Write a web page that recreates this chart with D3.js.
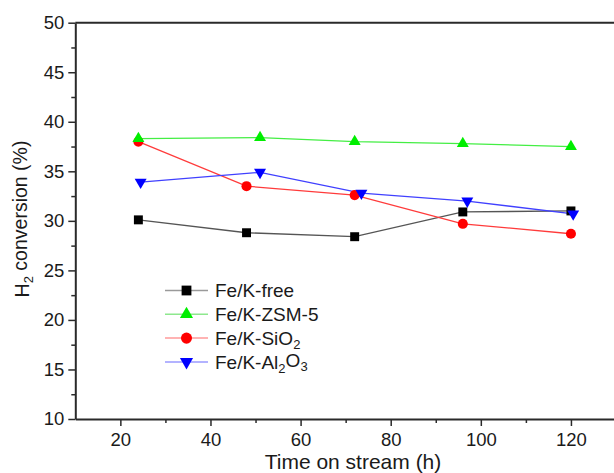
<!DOCTYPE html>
<html>
<head>
<meta charset="utf-8">
<script src="https://d3js.org/d3.v7.min.js"></script>
<style>
    body { margin: 0; background: #fff; }
    svg { display: block; overflow: hidden; font-family: Arial, "Liberation Sans", sans-serif; }
</style>
</head>
<body>
<div id="chart"></div>
<script>
// values
var seriesNames = ["Fe/K-free", "Fe/K-ZSM-5", "Fe/K-SiO2", "Fe/K-Al2O3"];
var timeFree = [24, 48, 72, 96, 120];
var timeZsm = [24, 51, 72, 96, 120];
var timeSio = [24, 48, 72, 96, 120];
var timeAlo = [24.5, 51, 73.5, 97, 120.5];
var convFree = [30.1, 28.8, 28.4, 30.9, 31.0];
var convZsm = [38.3, 38.4, 38.0, 37.8, 37.5];
var convSio = [38.0, 33.5, 32.6, 29.7, 28.7];
var convAlo = [33.9, 34.9, 32.8, 32.0, 30.7];
var xTicks = [20, 40, 60, 80, 100, 120];
var yTicks = [10, 15, 20, 25, 30, 35, 40, 45, 50];

var series = [
    {name: seriesNames[0], t: timeFree, v: convFree, symbol: d3.symbolSquare, size: 80, rot: 0,
        fill: "#000000", line: "#555555", legendLine: "#9a9a9a", z: 0},
    {name: seriesNames[1], t: timeZsm, v: convZsm, symbol: d3.symbolTriangle, size: 62, rot: 0,
        fill: "#00ee00", line: "#44ee44", legendLine: "#8ee88e", z: 3},
    {name: seriesNames[2], t: timeSio, v: convSio, symbol: d3.symbolCircle, size: 80, rot: 0,
        fill: "#ff0000", line: "#ff3b3b", legendLine: "#ff9a9a", z: 1},
    {name: seriesNames[3], t: timeAlo, v: convAlo, symbol: d3.symbolTriangle, size: 62, rot: 180,
        fill: "#0000ff", line: "#4040ff", legendLine: "#9a9aff", z: 2}
];

var width = 614, height = 473;
var plotLeft = 75.3, plotRight = 616, plotTop = 22.7, plotBottom = 419;

var svg = d3.select("#chart").append("svg")
    .attr("width", width)
    .attr("height", height);

var x = d3.scaleLinear().domain([10, 130]).range([plotLeft, plotRight]);
var y = d3.scaleLinear().domain([10, 50]).range([plotBottom, plotTop]);

var axisColor = "#2a2a2a";

// frame
svg.append("line")
    .attr("x1", plotLeft).attr("x2", plotRight)
    .attr("y1", plotTop).attr("y2", plotTop)
    .attr("stroke", axisColor).attr("stroke-width", 2);

// minor ticks
var yMinor = d3.range(12.5, 50, 5);
var xMinor = d3.range(30, 130, 20);

var gyMinor = svg.append("g")
    .attr("transform", "translate(" + plotLeft + ",0)")
    .call(d3.axisLeft(y).tickValues(yMinor).tickSize(4).tickFormat(""));
var gxMinor = svg.append("g")
    .attr("transform", "translate(0," + plotBottom + ")")
    .call(d3.axisBottom(x).tickValues(xMinor).tickSize(4).tickFormat(""));

var gy = svg.append("g")
    .attr("transform", "translate(" + plotLeft + ",0)")
    .call(d3.axisLeft(y).tickValues(yTicks).tickSize(7).tickSizeOuter(0).tickPadding(4));
var gx = svg.append("g")
    .attr("transform", "translate(0," + plotBottom + ")")
    .call(d3.axisBottom(x).tickValues(xTicks).tickSize(7).tickSizeOuter(0).tickPadding(6));

[gyMinor, gxMinor].forEach(function (g) {
    g.select(".domain").remove();
});
[gy, gx, gyMinor, gxMinor].forEach(function (g) {
    g.selectAll("line").attr("stroke", axisColor).attr("stroke-width", 1.5);
    g.select(".domain").attr("stroke", axisColor).attr("stroke-width", 2);
    g.selectAll("text").attr("fill", "#1a1a1a").style("font-size", "18.5px")
        .style("font-family", "Arial, 'Liberation Sans', sans-serif");
});
gx.selectAll("text").attr("dy", "0.75em");

// lines
var lineGen = d3.line()
    .x(function (d) { return x(d[0]); })
    .y(function (d) { return y(d[1]); });

series.forEach(function (s) {
    var pts = s.t.map(function (t, i) { return [t, s.v[i]]; });
    svg.append("path")
        .datum(pts)
        .attr("d", lineGen)
        .attr("fill", "none")
        .attr("stroke", s.line)
        .attr("stroke-width", 1.3);
});

// markers, green drawn last like in the original
series.slice().sort(function (a, b) { return a.z - b.z; }).forEach(function (s) {
    var pts = s.t.map(function (t, i) { return [t, s.v[i]]; });
    svg.selectAll(null)
        .data(pts)
        .enter().append("path")
        .attr("d", d3.symbol().type(s.symbol).size(s.size))
        .attr("transform", function (d) {
            return "translate(" + x(d[0]) + "," + y(d[1]) + ") rotate(" + s.rot + ")";
        })
        .attr("fill", s.fill);
});

// legend
var legend = svg.selectAll(".legend")
    .data(series)
    .enter().append("g")
    .attr("class", "legend")
    .attr("transform", function (d, i) {
        return "translate(165," + (290.5 + i * 23.8) + ")";
    });

legend.append("line")
    .attr("x1", 0).attr("x2", 43)
    .attr("y1", 0).attr("y2", 0)
    .attr("stroke", function (d) { return d.legendLine; })
    .attr("stroke-width", 1.5);

legend.append("path")
    .attr("d", function (d) { return d3.symbol().type(d.symbol).size(d.size * 1.2)(); })
    .attr("transform", function (d) { return "translate(21.5,0) rotate(" + d.rot + ")"; })
    .attr("fill", function (d) { return d.fill; });

var lt = legend.append("text")
    .attr("x", 50)
    .attr("dy", "0.36em")
    .style("font-size", "19px")
    .attr("fill", "#1a1a1a");

lt.each(function (d) {
    var t = d3.select(this);
    if (d.name === "Fe/K-SiO2") {
        t.append("tspan").text("Fe/K-SiO");
        t.append("tspan").attr("dy", "0.3em").style("font-size", "13px").text("2");
    } else if (d.name === "Fe/K-Al2O3") {
        t.append("tspan").text("Fe/K-Al");
        t.append("tspan").attr("dy", "0.3em").style("font-size", "13px").text("2");
        t.append("tspan").attr("dy", "-0.3em").text("O");
        t.append("tspan").attr("dy", "0.3em").style("font-size", "13px").text("3");
    } else {
        t.text(d.name);
    }
});

// axis titles
svg.append("text")
    .attr("x", 353)
    .attr("y", 469)
    .attr("text-anchor", "middle")
    .style("font-size", "21px")
    .attr("fill", "#1a1a1a")
    .text("Time on stream (h)");

var yl = svg.append("text")
    .attr("transform", "translate(29,219) rotate(-90)")
    .attr("text-anchor", "middle")
    .style("font-size", "19.5px")
    .attr("fill", "#1a1a1a");
yl.append("tspan").text("H");
yl.append("tspan").attr("dy", "0.3em").style("font-size", "13px").text("2");
yl.append("tspan").attr("dy", "-0.3em").text(" conversion (%)");
</script>
</body>
</html>
